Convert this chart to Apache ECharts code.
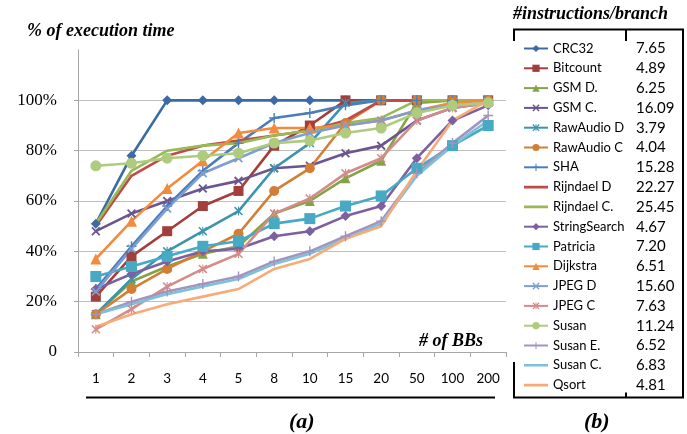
<!DOCTYPE html>
<html><head><meta charset="utf-8">
<script src="https://cdn.jsdelivr.net/npm/echarts@6/dist/echarts.min.js"></script>
<style>html,body{margin:0;padding:0;background:#fff}#c{width:687px;height:434px}</style>
</head><body><div id="c"></div>
<script>
const categories = ['1','2','3','4','5','8','10','15','20','50','100','200'];
const yTicks = [0, 20, 40, 60, 80, 100];

const seriesNames = ['CRC32','Bitcount','GSM D.','GSM C.','RawAudio D','RawAudio C','SHA','Rijndael D','Rijndael C.','StringSearch','Patricia','Dijkstra','JPEG D','JPEG C','Susan','Susan E.','Susan C.','Qsort'];
const branchRatio = ['7.65','4.89','6.25','16.09','3.79','4.04','15.28','22.27','25.45','4.67','7.20','6.51','15.60','7.63','11.24','6.52','6.83','4.81'];

const crc32      = [51, 78, 100, 100, 100, 100, 100, 100, 100, 100, 100, 100];
const bitcount   = [22, 38, 48, 58, 64, 82, 90, 100, 100, 100, 100, 100];
const gsmD       = [15, 28, 34, 39, 42, 55, 60, 69, 76, 99, 100, 100];
const gsmC       = [48, 55, 60, 65, 68, 73, 74, 79, 82, 92, 97, 99];
const rawAudioD  = [15, 29, 40, 48, 56, 73, 83, 99, 100, 100, 100, 100];
const rawAudioC  = [15, 25, 33, 40, 47, 64, 73, 91, 100, 100, 100, 100];
const sha        = [25, 42, 58, 72, 83, 93, 95, 98, 100, 100, 100, 100];
const rijndaelD  = [50, 70, 78, 82, 84, 86, 88, 92, 100, 100, 100, 100];
const rijndaelC  = [51, 72, 80, 82, 83, 86, 88, 91, 93, 100, 100, 100];
const stringSearch = [25, 31, 36, 40, 41, 46, 48, 54, 58, 77, 92, 98];
const patricia   = [30, 34, 38, 42, 44, 51, 53, 58, 62, 73, 82, 90];
const dijkstra   = [37, 52, 65, 76, 87, 89, 89, 90, 92, 96, 99, 100];
const jpegD      = [24, 41, 57, 71, 77, 83, 87, 90, 92, 96, 98, 99];
const jpegC      = [9, 17, 26, 33, 39, 55, 61, 71, 77, 92, 97, 99];
const susan      = [74, 75, 77, 78, 79, 83, 84, 87, 89, 95, 98, 99];
const susanE     = [15, 20, 24, 27, 30, 36, 40, 46, 52, 71, 83, 94];
const susanC     = [15, 19, 23, 26, 29, 35, 39, 45, 51, 70, 82, 92];
const qsort      = [10, 15, 19, 22, 25, 33, 37, 45, 50, 72, 92, 100];

const seriesData = [crc32, bitcount, gsmD, gsmC, rawAudioD, rawAudioC, sha, rijndaelD, rijndaelC, stringSearch, patricia, dijkstra, jpegD, jpegC, susan, susanE, susanC, qsort];

const X_SYM = 'path://M0,1.4L1.4,0L10,8.6L8.6,10Z M8.6,0L10,1.4L1.4,10L0,8.6Z';
const PLUS_SYM = 'path://M4.3,0L5.7,0L5.7,10L4.3,10Z M0,4.3L10,4.3L10,5.7L0,5.7Z';
const STAR_SYM = 'path://M4.4,0L5.6,0L5.6,10L4.4,10Z M0,1.2L1.2,0L10,8.8L8.8,10Z M8.8,0L10,1.2L1.2,10L0,8.8Z';
const LINE_ICON = 'path://M0,0L0.01,0L0.01,0.01Z M0,3.2L24,3.2L24,5.8L0,5.8Z M0,9L0.01,9L0.01,8.99Z';

const colors  = ['#3C6AA6','#A23E3B','#83A346','#6B5590','#3C95AD','#D27F35','#4A7EBB','#BE4B48','#98B954','#7D60A0','#46AAC5','#F38A3D','#7F9ED0','#D38C8A','#AECB7E','#A294BF','#7DC1D8','#F8AB78'];
const symbols = ['diamond','rect','triangle',X_SYM,STAR_SYM,'circle',PLUS_SYM,'none','none','diamond','rect','triangle',X_SYM,STAR_SYM,'circle',PLUS_SYM,'none','none'];
const symSizes = [10, 10, 10, 9, 9, 10, 10, 0, 0, 10, 11, 11, 9, 9, 11, 10, 0, 0];

const series = seriesNames.map((name, i) => ({
  name, type: 'line', data: seriesData[i],
  symbol: symbols[i], symbolSize: symSizes[i], showSymbol: symbols[i] !== 'none',
  lineStyle: { width: 2.6, color: colors[i] },
  itemStyle: { color: colors[i] },
  emphasis: { disabled: true },
  animation: false
}));

const legendData = seriesNames.map((name, i) => symbols[i] === 'none' ? { name, icon: LINE_ICON } : { name });

const chart = echarts.init(document.getElementById('c'), null, { renderer: 'canvas' });
const serif = 'Liberation Serif';
chart.setOption({
  animation: false,
  color: colors,
  grid: { left: 78, right: 181, top: 50, bottom: 82 },
  xAxis: {
    type: 'category', data: categories, boundaryGap: true,
    axisLine: { lineStyle: { color: '#A6A6A6', width: 1 } },
    axisTick: { show: true, length: 5, lineStyle: { color: '#A6A6A6' } },
    axisLabel: { color: '#000', fontFamily: 'Lato', fontSize: 13.5, margin: 20 },
    splitLine: { show: false }
  },
  yAxis: {
    type: 'value', min: 0, max: 120, interval: 20,
    axisLine: { show: true, lineStyle: { color: '#A6A6A6' } },
    axisTick: { show: true, length: 4, lineStyle: { color: '#A6A6A6' } },
    axisLabel: {
      color: '#000', fontFamily: serif, fontSize: 17, margin: 21, showMaxLabel: false,
      formatter: v => (yTicks.indexOf(v) < 0 ? '' : (v === 0 ? '0' : v + '%'))
    },
    splitLine: { show: true, showMaxLine: false, lineStyle: { color: '#BFBFBF', width: 1 } }
  },
  legend: {
    orient: 'vertical', left: 523, top: 41, itemWidth: 24, itemHeight: 9, itemGap: 4.8,
    backgroundColor: '#fff', padding: 0,
    data: legendData,
    formatter: name => '{n|' + name + '}{v|' + branchRatio[seriesNames.indexOf(name)] + '}',
    textStyle: {
      color: '#000',
      rich: {
        n: { fontFamily: 'Lato', fontSize: 13, width: 83, lineHeight: 16, color: '#000' },
        v: { fontFamily: 'Lato', fontSize: 15, lineHeight: 16, color: '#000' }
      }
    }
  },
  graphic: [
    { type: 'text', left: 27, top: 22, style: { text: '% of execution time', font: 'italic bold 18px "Liberation Serif"', fill: '#000' } },
    { type: 'text', left: 419, top: 332, style: { text: '# of BBs', font: 'italic bold 18px "Liberation Serif"', fill: '#000' } },
    { type: 'text', left: 513, top: 5, style: { text: '#instructions/branch', font: 'italic bold 18px "Liberation Serif"', fill: '#000' } },
    { type: 'text', left: 289, top: 411, style: { text: '(a)', font: 'italic bold 22px "Liberation Serif"', fill: '#000' } },
    { type: 'text', left: 584, top: 411, style: { text: '(b)', font: 'italic bold 22px "Liberation Serif"', fill: '#000' } },
    { type: 'line', shape: { x1: 86, y1: 397.5, x2: 495, y2: 397.5 }, style: { stroke: '#000', lineWidth: 2 } },
    { type: 'polyline', shape: { points: [[514, 41], [514, 29.5], [683, 29.5], [683, 397.5], [514, 397.5], [514, 362]] }, style: { stroke: '#000', lineWidth: 2, fill: null } },
    { type: 'line', shape: { x1: 626, y1: 29.5, x2: 626, y2: 397.5 }, style: { stroke: '#000', lineWidth: 2 } }
  ],
  series
});
</script></body></html>
